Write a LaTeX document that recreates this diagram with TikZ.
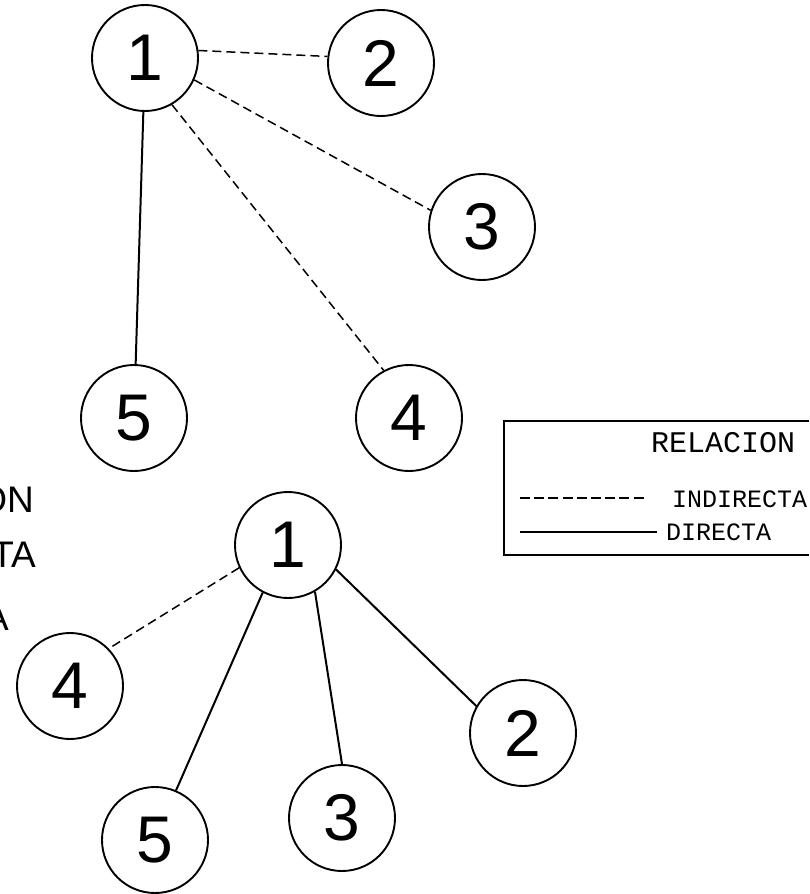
\documentclass[tikz,border=0pt]{standalone}
\usepackage{fontspec}
\setmainfont{Liberation Sans}
\newfontfamily\legendfont{Liberation Mono}
\usetikzlibrary{positioning}
\tikzset{
vertex/.style={circle, draw, line width=1.9pt, minimum size=106pt, inner sep=0pt, font=\fontsize{66}{66}\selectfont}, % sets the look of each numbered circle
direct/.style={line width=2pt}, % solid line, relacion directa
indirect/.style={line width=1.5pt, dash pattern=on 9pt off 5pt}, % dashed line, relacion indirecta
legend/.style={inner sep=0pt, font=\legendfont\fontsize{25}{25}\selectfont}, % sets the text of the legend
}

\begin{document}
\begin{tikzpicture}[x=1pt, y=-1pt]
    \useasboundingbox (0,0) rectangle (809,894);
    % upper graph
    \node[vertex] (t1) at (145,58) {1};
    \node[vertex] (t2) at (381,63) {2};
    \node[vertex] (t3) at (482,227) {3};
    \node[vertex] (t4) at (409,418) {4};
    \node[vertex] (t5) at (134,418) {5};
    \draw
    (t1.8) edge[indirect] (t2.173)
    (t1.-24) edge[indirect] (t3.162)
    (t1.-60) edge[indirect] (t4.118)
    (t1) edge[direct] (t5);
    % lower graph
    \node[vertex] (b1) at (288,545) {1};
    \node[vertex] (b2) at (523,733) {2};
    \node[vertex] (b3) at (342,818) {3};
    \node[vertex] (b4) at (70,686) {4};
    \node[vertex] (b5) at (155,840) {5};
    \draw
    (b1.205) edge[indirect] (b4.44)
    (b1.242) edge[direct] (b5.67)
    (b1.300) edge[direct] (b3.north)
    (b1.-27) edge[direct] (b2.150);
    % texts cut at the left edge
    \node[anchor=base east, inner sep=0pt, font=\fontsize{37}{37}\selectfont] (cutON) at (34,512) {ON};
    \node[anchor=base east, inner sep=0pt, font=\fontsize{37}{37}\selectfont] (cutTA) at (36,567) {TA};
    \node[anchor=base east, inner sep=0pt, font=\fontsize{37}{37}\selectfont] (cutA) at (9,630) {A};
    % legend
    \draw[line width=1.5pt] (809,421) -- (504,421) -- (504,555) -- (809,555);
    \node[legend, anchor=base west, font=\legendfont\fontsize{30}{30}\selectfont] (relacion) at (651,452) {RELACION};
    \node[legend, anchor=base west] (indirecta) at (672,507) {INDIRECTA};
    \node[legend, anchor=base west] (directa) at (666,540) {DIRECTA};
    \coordinate (dashL) at (520,498);
    \coordinate (dashR) at (647,498);
    \coordinate (lineL) at (520,532);
    \coordinate (lineR) at (657,532);
    \draw[indirect, dash pattern=on 10pt off 4.2pt] (dashL) -- (dashR);
    \draw[direct, line width=2.4pt] (lineL) -- (lineR);
\end{tikzpicture}
\end{document}
